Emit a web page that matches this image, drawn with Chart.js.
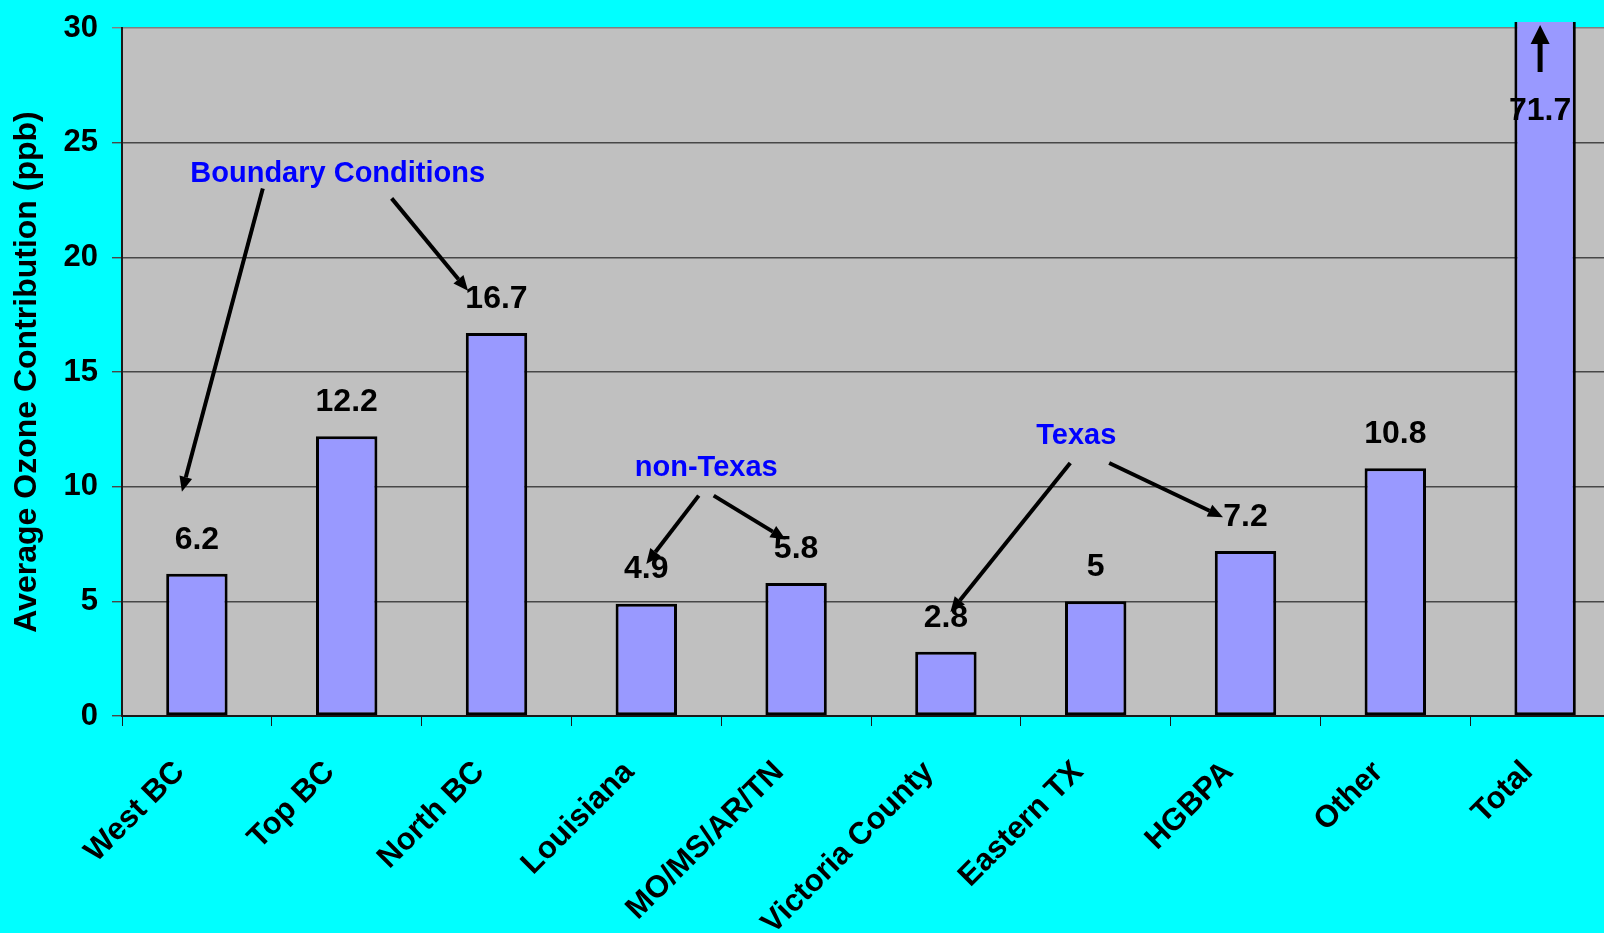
<!DOCTYPE html>
<html>
<head>
<meta charset="utf-8">
<title>Average Ozone Contribution</title>
<script src="https://cdn.jsdelivr.net/npm/chart.js@4.4.1/dist/chart.umd.min.js"></script>
<style>
    html, body {
        margin: 0;
        padding: 0;
        background: #00FFFF;
        overflow: hidden;
    }
    #wrapper {
        position: relative;
        width: 1625px;
        height: 933px;
    }
</style>
</head>
<body>
<div id="wrapper">
    <canvas id="ozone" width="1625" height="933"></canvas>
</div>
<script>
const regions = ["West BC", "Top BC", "North BC", "Louisiana", "MO/MS/AR/TN",
    "Victoria County", "Eastern TX", "HGBPA", "Other", "Total"];
const contribution = [6.2, 12.2, 16.7, 4.9, 5.8, 2.8, 5, 7.2, 10.8, 71.7];
const yTicks = [0, 5, 10, 15, 20, 25, 30];

// group captions, placed in data units (category index, ppb)
const groupNames = ["Boundary Conditions", "non-Texas", "Texas"];
const groupAt = [[0.94, 23.65], [3.40, 10.80], [5.87, 12.22]];

// callout arrows [fromX, fromY, toX, toY] in data units
const arrows = [
    [0.44, 23.0, -0.10, 9.78],
    [1.30, 22.57, 1.81, 18.54],
    [3.35, 9.61, 3.00, 6.63],
    [3.45, 9.61, 3.93, 7.70],
    [5.83, 11.03, 5.03, 4.53],
    [6.09, 11.03, 6.85, 8.67]
];

const FONT = "'Liberation Sans', Arial, Helvetica, sans-serif";

function drawArrow(ctx, x1, y1, x2, y2, width, headLen, headWidth) {
    const ang = Math.atan2(y2 - y1, x2 - x1);
    const bx = x2 - headLen * Math.cos(ang);
    const by = y2 - headLen * Math.sin(ang);
    ctx.strokeStyle = "#000";
    ctx.fillStyle = "#000";
    ctx.lineWidth = width;
    ctx.beginPath();
    ctx.moveTo(x1, y1);
    ctx.lineTo(bx, by);
    ctx.stroke();
    const px = Math.sin(ang) * headWidth / 2;
    const py = -Math.cos(ang) * headWidth / 2;
    ctx.beginPath();
    ctx.moveTo(x2, y2);
    ctx.lineTo(bx + px, by + py);
    ctx.lineTo(bx - px, by - py);
    ctx.closePath();
    ctx.fill();
}

// gray plot area behind the bars
const plotBackground = {
    id: 'plotBackground',
    beforeDraw(chart) {
        const a = chart.chartArea;
        const ctx = chart.ctx;
        ctx.save();
        ctx.fillStyle = "#C0C0C0";
        ctx.fillRect(a.left, a.top, a.right - a.left, a.bottom - a.top);
        ctx.restore();
    }
};

// value labels, group captions and arrows
const annotations = {
    id: 'annotations',
    afterDatasetsDraw(chart) {
        const ctx = chart.ctx;
        const xs = chart.scales.x;
        const ys = chart.scales.y;
        const a = chart.chartArea;
        ctx.save();

        ctx.font = "bold 32px " + FONT;
        ctx.fillStyle = "#000";
        ctx.textAlign = "center";
        ctx.textBaseline = "middle";
        chart.getDatasetMeta(0).data.forEach((bar, i) => {
            const v = contribution[i];
            let x = bar.x;
            let y = bar.y - 34;
            if (v > ys.max) {
                // bar runs off the top: label inside it, plus an up arrow
                x = bar.x - 5;
                y = a.top + 83;
                drawArrow(ctx, x, a.top + 44, x, a.top - 3, 5, 19, 19);
            }
            ctx.fillText(String(v), x, y);
        });

        ctx.font = "bold 29px " + FONT;
        ctx.fillStyle = "#0000FF";
        groupNames.forEach((name, i) => {
            ctx.fillText(name, xs.getPixelForValue(groupAt[i][0]), ys.getPixelForValue(groupAt[i][1]));
        });

        arrows.forEach(ar => {
            drawArrow(ctx,
                xs.getPixelForValue(ar[0]), ys.getPixelForValue(ar[1]),
                xs.getPixelForValue(ar[2]), ys.getPixelForValue(ar[3]),
                4, 15, 13);
        });
        ctx.restore();
    }
};

const ozoneConfig = {
    type: 'bar',
    data: {
        labels: regions,
        datasets: [{
            data: contribution,
            backgroundColor: "#9999FF",
            borderColor: "#000",
            borderWidth: 3,
            borderSkipped: false,
            barPercentage: 0.41,
            categoryPercentage: 1,
            clip: { left: false, top: 6, right: false, bottom: 0 }
        }]
    },
    options: {
        responsive: false,
        animation: false,
        layout: {
            padding: { top: 28, right: 5, bottom: 0, left: 0 }
        },
        scales: {
            x: {
                afterFit: (s) => { s.height = 217; },
                border: { display: true, color: "#1A1A1A", width: 2 },
                grid: {
                    offset: true,
                    drawOnChartArea: false,
                    tickLength: 10,
                    color: "#1A1A1A"
                },
                ticks: {
                    color: "#000",
                    font: { family: FONT, size: 31, weight: 'bold' },
                    minRotation: 45,
                    maxRotation: 45,
                    autoSkip: false,
                    padding: 28,
                    labelOffset: -17
                }
            },
            y: {
                min: 0,
                max: 30,
                afterFit: (s) => {
                    s.width = 122;
                    s.paddingTop = 0;
                    s.paddingBottom = 0;
                },
                afterBuildTicks: (s) => { s.ticks = yTicks.map(v => ({ value: v })); },
                border: { display: true, color: "#1A1A1A", width: 2 },
                grid: {
                    tickLength: 10,
                    color: (c) => (c.tick && c.tick.value === 30) ? "#7F7F7F" : "#474747",
                    lineWidth: 1.4
                },
                ticks: {
                    color: "#000",
                    font: { family: FONT, size: 31, weight: 'bold' },
                    padding: 14
                },
                title: {
                    display: true,
                    text: "Average Ozone Contribution (ppb)",
                    color: "#000",
                    font: { family: FONT, size: 32, weight: 'bold' },
                    padding: { top: 8, bottom: 0 }
                }
            }
        },
        plugins: {
            legend: { display: false },
            tooltip: { enabled: false }
        }
    },
    plugins: [plotBackground, annotations]
};

ozoneChart = new Chart(
    document.getElementById('ozone'),
    ozoneConfig
);
</script>
</body>
</html>
